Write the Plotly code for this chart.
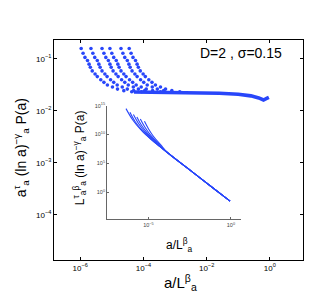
import plotly.graph_objects as go

# ---- main panel: six scaled curves (log10 of x = a/L^beta, log10 of y) ----
main_c1_lx = [-5.97, -5.91, -5.85, -5.77, -5.72, -5.68, -5.62, -5.53, -5.46, -5.35, -5.25, -5.14, -4.98, -4.82, -4.62, -4.37]
main_c2_lx = [-5.66, -5.60, -5.54, -5.46, -5.41, -5.37, -5.31, -5.22, -5.15, -5.04, -4.94, -4.83, -4.67, -4.51, -4.31, -4.06]
main_c3_lx = [-5.31, -5.25, -5.19, -5.11, -5.06, -5.02, -4.96, -4.87, -4.80, -4.69, -4.59, -4.48, -4.32, -4.16, -3.96, -3.71]
main_c4_lx = [-5.06, -5.00, -4.94, -4.86, -4.81, -4.77, -4.71, -4.62, -4.55, -4.44, -4.34, -4.23, -4.07, -3.91, -3.71, -3.46]
main_c5_lx = [-4.71, -4.65, -4.59, -4.51, -4.46, -4.42, -4.36, -4.27, -4.20, -4.09, -3.99, -3.88, -3.72, -3.56, -3.36, -3.11]
main_c6_lx = [-4.45, -4.39, -4.33, -4.25, -4.20, -4.16, -4.10, -4.01, -3.94, -3.83, -3.73, -3.62, -3.46, -3.30, -3.10, -2.85]
main_c1_ly = [-0.80, -0.89, -0.97, -1.03, -1.10, -1.16, -1.23, -1.29, -1.34, -1.40, -1.45, -1.50, -1.54, -1.58, -1.61, -1.63]
main_c2_ly = [-0.80, -0.89, -0.97, -1.03, -1.10, -1.16, -1.23, -1.29, -1.34, -1.40, -1.45, -1.50, -1.54, -1.58, -1.61, -1.63]
main_c3_ly = [-0.80, -0.89, -0.97, -1.03, -1.10, -1.16, -1.23, -1.29, -1.34, -1.40, -1.45, -1.50, -1.54, -1.58, -1.61, -1.63]
main_c4_ly = [-0.80, -0.89, -0.97, -1.03, -1.10, -1.16, -1.23, -1.29, -1.34, -1.40, -1.45, -1.50, -1.54, -1.58, -1.61, -1.63]
main_c5_ly = [-0.80, -0.89, -0.97, -1.03, -1.10, -1.16, -1.23, -1.29, -1.34, -1.40, -1.45, -1.50, -1.54, -1.58, -1.61, -1.63]
main_c6_ly = [-0.80, -0.89, -0.97, -1.03, -1.10, -1.16, -1.23, -1.29, -1.34, -1.40, -1.45, -1.50, -1.54, -1.58, -1.61, -1.63]
# collapsed dense band
band_lx = [-4.30, -3.50, -2.50, -1.60, -1.00, -0.60, -0.35, -0.20, -0.10, -0.03]
band_ly = [-1.635, -1.64, -1.65, -1.66, -1.68, -1.71, -1.75, -1.79, -1.76, -1.74]

# ---- inset: unscaled curves (log10 values) ----
ins_c1_lx = [-6.36, -5.95, -5.45, -4.90, -4.44]
ins_c1_ly = [14.48, 12.52, 10.79, 9.30, 8.20]
ins_c2_lx = [-6.12, -5.80, -5.35, -4.85, -4.30]
ins_c2_ly = [13.84, 12.20, 10.60, 9.20, 7.90]
ins_c3_lx = [-5.91, -5.60, -5.20, -4.70, -4.20]
ins_c3_ly = [13.45, 11.90, 10.40, 8.95, 7.67]
ins_c4_lx = [-5.70, -5.42, -5.05, -4.55, -4.10]
ins_c4_ly = [13.03, 11.60, 10.20, 8.70, 7.45]
ins_c5_lx = [-5.49, -5.22, -4.88, -4.40, -4.00]
ins_c5_ly = [12.69, 11.30, 9.95, 8.45, 7.23]
ins_c6_lx = [-5.24, -5.00, -4.70, -4.25, -3.85]
ins_c6_ly = [12.29, 11.00, 9.70, 8.20, 6.90]
ins_tail_lx = [-2.42, -1.20, -0.05]
ins_tail_ly = [3.70, 1.00, -1.55]

# ---- tick labels ----
main_x_ticks = [1e-6, 1e-4, 1e-2, 1]
main_x_text = ["10<sup>−6</sup>", "10<sup>−4</sup>", "10<sup>−2</sup>", "10<sup>0</sup>"]
main_y_ticks = [1e-4, 1e-3, 1e-2, 1e-1]
main_y_text = ["10<sup>−4</sup>", "10<sup>−3</sup>", "10<sup>−2</sup>", "10<sup>−1</sup>"]
ins_x_ticks = [1e-5, 1]
ins_x_text = ["10<sup>−5</sup>", "10<sup>0</sup>"]
ins_y_ticks = [1, 1e5, 1e10, 1e15]
ins_y_text = ["10<sup>0</sup>", "10<sup>5</sup>", "10<sup>10</sup>", "10<sup>15</sup>"]

BLUE = "rgb(40,70,250)"
FONT = "Liberation Sans, Arial, sans-serif"

fig = go.Figure()
main_x = [main_c1_lx, main_c2_lx, main_c3_lx, main_c4_lx, main_c5_lx, main_c6_lx]
main_y = [main_c1_ly, main_c2_ly, main_c3_ly, main_c4_ly, main_c5_ly, main_c6_ly]
for lx, ly in zip(main_x, main_y):
    fig.add_trace(go.Scatter(x=[10 ** v for v in lx], y=[10 ** v for v in ly],
                             mode="markers", marker=dict(size=3.6, color=BLUE),
                             showlegend=False))
fig.add_trace(go.Scatter(x=[10 ** v for v in band_lx], y=[10 ** v for v in band_ly],
                         mode="lines", line=dict(color=BLUE, width=3.6), showlegend=False))

ins_x = [ins_c1_lx, ins_c2_lx, ins_c3_lx, ins_c4_lx, ins_c5_lx, ins_c6_lx]
ins_y = [ins_c1_ly, ins_c2_ly, ins_c3_ly, ins_c4_ly, ins_c5_ly, ins_c6_ly]
for lx, ly in zip(ins_x, ins_y):
    fig.add_trace(go.Scatter(x=[10 ** v for v in lx + ins_tail_lx],
                             y=[10 ** v for v in ly + ins_tail_ly],
                             mode="lines", line=dict(color=BLUE, width=1.1, shape="spline"),
                             xaxis="x2", yaxis="y2", showlegend=False))

axis_common = dict(type="log", showline=True, linecolor="black", linewidth=1,
                   mirror="ticks", ticks="inside", ticklen=3, tickcolor="black",
                   showgrid=False, zeroline=False, tickmode="array",
                   tickfont=dict(size=8, color="black", family=FONT))
inset_common = dict(type="log", showline=True, linecolor="#666", linewidth=1, ticks="inside",
                    ticklen=2, tickcolor="#666", showgrid=False, zeroline=False, tickmode="array",
                    tickfont=dict(size=5.5, color="#444", family=FONT))

fig.update_layout(
    width=332, height=294,
    margin=dict(l=46, r=36.5, t=31.7, b=42),
    paper_bgcolor="white", plot_bgcolor="white",
    font=dict(family=FONT, color="black"),
    xaxis=dict(range=[-6.83, 1.05], domain=[0, 1], tickvals=main_x_ticks, ticktext=main_x_text, **axis_common),
    yaxis=dict(range=[-4.87, -0.635], domain=[0, 1], tickvals=main_y_ticks, ticktext=main_y_text, **axis_common),
    xaxis2=dict(anchor="y2", domain=[0.2136, 0.7495], range=[-7.5, 0.59],
                tickvals=ins_x_ticks, ticktext=ins_x_text, **inset_common),
    yaxis2=dict(anchor="x2", domain=[0.1847, 0.7022], range=[-4.7, 15.02],
                tickvals=ins_y_ticks, ticktext=ins_y_text, **inset_common),
    annotations=[
        dict(text="D=2 , σ=0.15", xref="paper", yref="paper", x=0.75, y=0.94,
             showarrow=False, font=dict(size=14), xanchor="center", yanchor="middle"),
        dict(text="a<sup>τ</sup><sub>a</sub> (ln a)<sup>−γ</sup><sub>a</sub> P(a)",
             xref="paper", yref="paper", x=-0.132, y=0.508, textangle=-90,
             showarrow=False, font=dict(size=14), xanchor="center", yanchor="middle"),
        dict(text="a/L<sup>β</sup><sub>a</sub>", xref="paper", yref="paper", x=0.509, y=-0.104,
             showarrow=False, font=dict(size=15), xanchor="center", yanchor="middle"),
        dict(text="L<sup>τ</sup><sub>a</sub><sup>β</sup><sub>a</sub> (ln a)<sup>−γ</sup><sub>a</sub> P(a)",
             xref="paper", yref="paper", x=0.104, y=0.467, textangle=-90,
             showarrow=False, font=dict(size=12), xanchor="center", yanchor="middle"),
        dict(text="a/L<sup>β</sup><sub>a</sub>", xref="paper", yref="paper", x=0.505, y=0.068,
             showarrow=False, font=dict(size=12), xanchor="center", yanchor="middle"),
    ],
)

fig.write_html("out.html")
